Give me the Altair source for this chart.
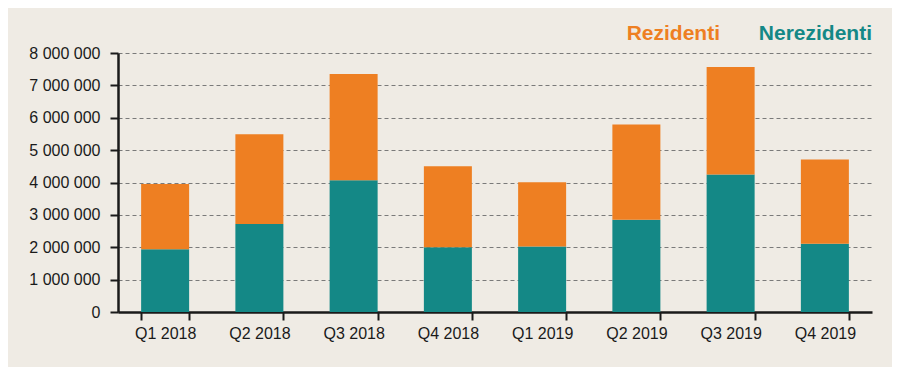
import altair as alt
import pandas as pd

quarters = ["Q1 2018", "Q2 2018", "Q3 2018", "Q4 2018", "Q1 2019", "Q2 2019", "Q3 2019", "Q4 2019"]
nerezidenti = [1940000, 2720000, 4070000, 2000000, 2020000, 2850000, 4250000, 2110000]
rezidenti = [2010000, 2770000, 3280000, 2500000, 1990000, 2940000, 3320000, 2600000]
series = ["Nerezidenti", "Rezidenti"]
colors = ["#148886", "#EE7F22"]

rows = []
for q, n, r in zip(quarters, nerezidenti, rezidenti):
    rows.append({"q": q, "s": "Nerezidenti", "v": n, "o": 0})
    rows.append({"q": q, "s": "Rezidenti", "v": r, "o": 1})
df = pd.DataFrame(rows)

FONT = "Liberation Sans"

bars = alt.Chart(df).mark_bar(size=48).encode(
    x=alt.X("q:N", sort=quarters, title=None,
            scale=alt.Scale(paddingInner=0.49, paddingOuter=0.245),
            axis=alt.Axis(tickBand="extent", labelAngle=0, domainColor="#1a1a1a",
                          domainWidth=2.5, tickColor="#1a1a1a", tickWidth=2,
                          tickSize=8, labelFontSize=16, labelColor="#1a1a1a",
                          labelFont=FONT, labelPadding=5)),
    y=alt.Y("v:Q", stack="zero", title=None,
            scale=alt.Scale(domain=[0, 8000000]),
            axis=alt.Axis(values=list(range(0, 8000001, 1000000)),
                          labelExpr="replace(format(datum.value, ',d'), regexp(',', 'g'), ' ')",
                          domainColor="#1a1a1a", domainWidth=2.5, tickColor="#1a1a1a",
                          tickWidth=2, tickSize=8, labelFontSize=16, labelColor="#1a1a1a",
                          labelFont=FONT, labelPadding=10,
                          grid=True, gridColor="#7a7a7a", gridDash=[4, 3], gridWidth=1)),
    color=alt.Color("s:N", scale=alt.Scale(domain=series, range=colors), legend=None),
    order=alt.Order("o:Q"),
)

leg_df = pd.DataFrame({"label": ["Rezidenti", "Nerezidenti"]})
leg1 = alt.Chart(leg_df[leg_df.label == "Rezidenti"]).mark_text(
    align="right", baseline="alphabetic", fontSize=21, fontWeight="bold", font=FONT,
    color="#EE7F22").encode(x=alt.value(602), y=alt.value(-13), text="label:N")
leg2 = alt.Chart(leg_df[leg_df.label == "Nerezidenti"]).mark_text(
    align="right", baseline="alphabetic", fontSize=21, fontWeight="bold", font=FONT,
    color="#148886").encode(x=alt.value(754), y=alt.value(-13), text="label:N")

chart = alt.layer(bars, leg1, leg2).properties(
    width=754, height=259,
    autosize=alt.AutoSizeParams(type="none"),
    padding={"left": 110, "top": 45, "right": 20, "bottom": 55},
    background="#EFEBE4",
).configure_view(stroke=None)

chart.save("out.html", embed_options={"renderer": "svg", "actions": False})
